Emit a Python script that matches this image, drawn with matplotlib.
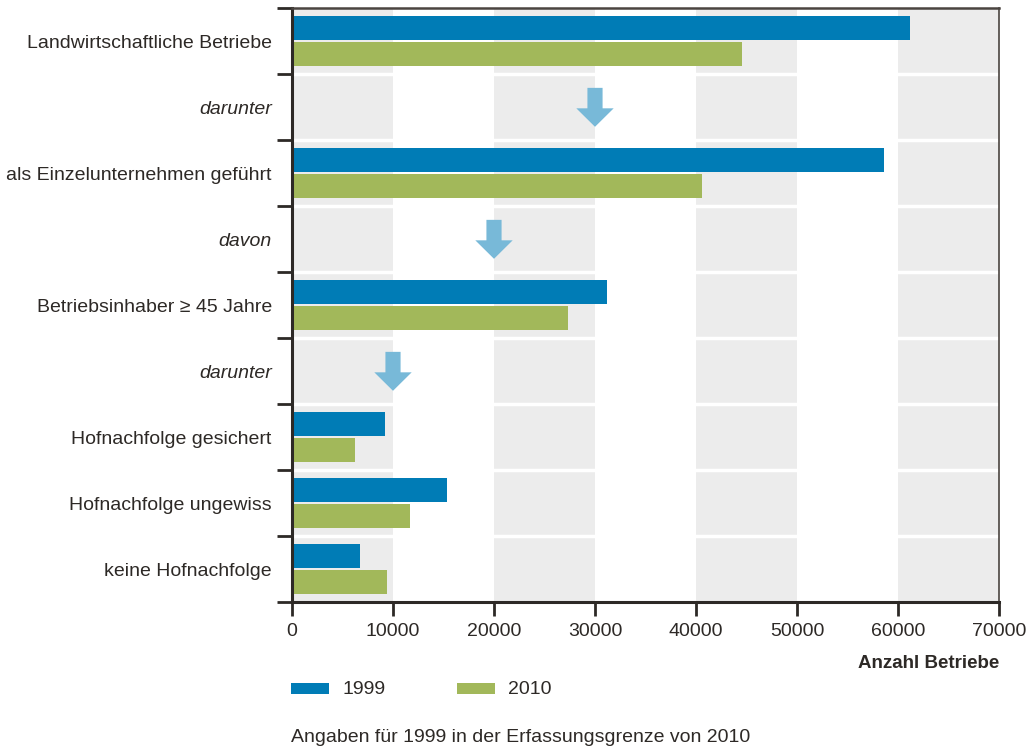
import matplotlib.pyplot as plt
from matplotlib.patches import Polygon, Rectangle

# categories, top to bottom
labels = [
    "Landwirtschaftliche Betriebe",
    "darunter",
    "als Einzelunternehmen geführt",
    "davon",
    "Betriebsinhaber ≥ 45 Jahre",
    "darunter",
    "Hofnachfolge gesichert",
    "Hofnachfolge ungewiss",
    "keine Hofnachfolge",
]
italic_rows = [1, 3, 5]

# values (None = connector row without bars)
values_1999 = [61200, None, 58600, None, 31200, None, 9200, 15350, 6700]
values_2010 = [44600, None, 40600, None, 27300, None, 6200, 11700, 9400]

# arrows in connector rows: (row, x position)
arrow_rows = [1, 3, 5]
arrow_x = [30000, 20000, 10000]

x_ticks = [0, 10000, 20000, 30000, 40000, 50000, 60000, 70000]
series_names = ["1999", "2010"]
note = "Angaben für 1999 in der Erfassungsgrenze von 2010"
x_label = "Anzahl Betriebe"

BLUE = "#007cb6"
GREEN = "#a2b85a"
BAND = "#ececec"
ARROW = "#78b9d8"
TEXT = "#2d2926"

plt.rcParams["font.family"] = ["Liberation Sans", "DejaVu Sans"]

fig = plt.figure(figsize=(10.34, 7.49), dpi=100)
ax = fig.add_axes([292 / 1034, 1 - 602 / 749, 707 / 1034, 594 / 749])

n = len(labels)
ax.set_xlim(0, 70000)
ax.set_ylim(n - 0.5, -0.5)

# alternating vertical bands (first band grey)
for i, x in enumerate(x_ticks[:-1]):
    if i % 2 == 0:
        ax.axvspan(x, x_ticks[i + 1], color=BAND, zorder=0, lw=0)
# white separators between rows
for b in range(n - 1):
    ax.axhline(b + 0.5, color="white", lw=2.5, zorder=1)

off = 0.197
h = 0.36
for i in range(n):
    if values_1999[i] is not None:
        ax.barh(i - off, values_1999[i], height=h, color=BLUE, zorder=2)
        ax.barh(i + off, values_2010[i], height=h, color=GREEN, zorder=2)

# down arrows
sw, hw = 750, 1850
for r, x in zip(arrow_rows, arrow_x):
    pts = [
        (x - sw, r - 0.29), (x + sw, r - 0.29), (x + sw, r + 0.02),
        (x + hw, r + 0.02), (x, r + 0.30), (x - hw, r + 0.02),
        (x - sw, r + 0.02),
    ]
    ax.add_patch(Polygon(pts, closed=True, color=ARROW, lw=0, zorder=3))

# y axis: ticks at row boundaries, labels at centres
ax.set_yticks([b - 0.5 for b in range(n + 1)])
ax.set_yticklabels([])
ax.tick_params(axis="y", which="major", direction="out", length=11, width=2, color=TEXT)
ax.set_yticks(range(n), minor=True)
ax.set_yticklabels(labels, minor=True, fontsize=14, color=TEXT)
ax.tick_params(axis="y", which="minor", length=0, pad=14.5)
for i, t in enumerate(ax.get_yticklabels(minor=True)):
    if i in italic_rows:
        t.set_style("italic")

ax.set_xticks(x_ticks)
ax.set_xticklabels([str(v) for v in x_ticks], fontsize=14, color=TEXT)
ax.tick_params(axis="x", direction="out", length=10, width=2, color=TEXT, pad=5)

for side in ["left", "bottom"]:
    ax.spines[side].set_linewidth(2.2)
    ax.spines[side].set_color(TEXT)
ax.spines["top"].set_linewidth(1.8)
ax.spines["top"].set_color("#4a4440")
ax.spines["right"].set_linewidth(1.2)
ax.spines["right"].set_color("#4a4440")

fig.text(999 / 1034, 1 - 663 / 749, x_label, ha="right", va="center",
         fontsize=13.5, fontweight="bold", color=TEXT)

# legend
for name, col, lx in zip(series_names, [BLUE, GREEN], [291, 457]):
    fig.patches.append(Rectangle((lx / 1034, 1 - 694 / 749), 38 / 1034, 11 / 749,
                                 transform=fig.transFigure, color=col, lw=0))
    fig.text((lx + 51) / 1034, 1 - 689 / 749, name, ha="left", va="center",
             fontsize=14, color=TEXT)

fig.text(291 / 1034, 1 - 737 / 749, note, ha="left", va="center",
         fontsize=14, color=TEXT)

fig.savefig("out.png", dpi=100)
